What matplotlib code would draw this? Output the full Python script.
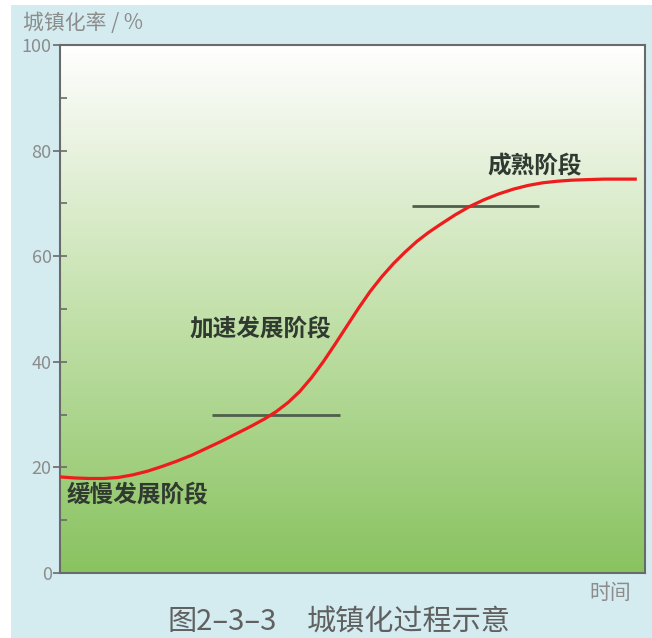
import numpy as np
import matplotlib
matplotlib.use("Agg")
import matplotlib.pyplot as plt
from matplotlib.colors import LinearSegmentedColormap
from matplotlib.patches import Rectangle

plt.rcParams['font.family'] = ['Noto Sans CJK SC', 'DejaVu Sans']

# curve (time axis 0-100, urbanisation rate in %)
curve_x = [0, 2.5, 5, 7.5, 10, 12.5, 15, 17.5, 20, 22.5, 25, 27.5, 30, 32.5, 35,
           37, 39, 41, 43, 45, 47, 49, 51, 53, 55, 57, 59, 61, 63, 65, 67.5,
           70, 72.5, 75, 77.5, 80, 82.5, 85, 87.5, 90, 93, 96, 98.6]
curve_y = [18.2, 18.0, 17.9, 17.9, 18.1, 18.6, 19.3, 20.2, 21.2, 22.3, 23.6, 24.9,
           26.3, 27.7, 29.2, 30.6, 32.3, 34.4, 37.0, 40.0, 43.3, 46.7, 50.1, 53.3,
           56.1, 58.6, 60.8, 62.8, 64.5, 66.0, 67.8, 69.4, 70.7, 71.8, 72.7, 73.4,
           73.9, 74.2, 74.4, 74.5, 74.6, 74.6, 74.6]

# stage boundaries
stage_y = [30, 69.5]
stage_x0 = [26.0, 60.2]
stage_x1 = [47.9, 81.9]

stage_names = ['缓慢发展阶段', '加速发展阶段', '成熟阶段']
stage_pos = [(1.2, 14.8), (22.2, 46.4), (73.0, 77.1)]

yticks = [0, 20, 40, 60, 80, 100]

fig = plt.figure(figsize=(6.52, 6.38), dpi=100, facecolor='#d4ecf0')
# white strips at the left and top edge of the scan
fig.patches.append(Rectangle((0, 0), 11 / 652, 1, transform=fig.transFigure,
                             facecolor='white', edgecolor='none'))
fig.patches.append(Rectangle((0, 1 - 5 / 638), 1, 5 / 638, transform=fig.transFigure,
                             facecolor='white', edgecolor='none'))

ax = fig.add_axes([60 / 652, 65 / 638, 585 / 652, 528 / 638])

# white-to-green background
cmap = LinearSegmentedColormap.from_list(
    'bg', [(0, '#89c360'), (0.5, '#c4e1ac'), (0.85, '#eef5e6'), (1, '#ffffff')])
grad = np.linspace(0, 1, 256).reshape(-1, 1)
ax.imshow(grad, extent=[0, 100, 0, 100], origin='lower', aspect='auto',
          cmap=cmap, zorder=0)

ax.plot(curve_x, curve_y, color='#ee1c1c', lw=2.3, zorder=3,
        solid_capstyle='butt', solid_joinstyle='round')
ax.hlines(stage_y, stage_x0, stage_x1, color='#4f5f4c', lw=2, zorder=2)

for name, (tx, ty) in zip(stage_names, stage_pos):
    ax.text(tx, ty, name, fontsize=17, fontweight='bold', color='#303a30',
            va='center', ha='left', zorder=4)

ax.set_xlim(0, 100)
ax.set_ylim(0, 100)
ax.set_xticks([])
ax.set_yticks(yticks)
ax.set_yticks(range(10, 100, 20), minor=True)
ax.tick_params(axis='y', which='major', direction='inout', length=10, width=1.2,
               color='#6a6a6a', labelsize=13, labelcolor='#8c8c8c', pad=1)
ax.tick_params(axis='y', which='minor', direction='in', length=5, width=1.2,
               color='#6a6a6a')
for lab in ax.get_yticklabels():
    lab.set_fontweight('light')
for sp in ax.spines.values():
    sp.set_color('#6a6a6a')
    sp.set_linewidth(1.5)

fig.text(23 / 652, 1 - 23 / 638, '城镇化率 / %', fontsize=15, color='#8c8c8c',
         fontweight='light', va='center', ha='left')
fig.text(589 / 652, 1 - 593 / 638, '时间', fontsize=15, color='#8c8c8c',
         fontweight='light', va='center', ha='left')
fig.text(168 / 652, 1 - 622 / 638, '图2–3–3', fontsize=21,
         color='#606060', fontweight='light', va='center', ha='left')
fig.text(307 / 652, 1 - 622 / 638, '城镇化过程示意', fontsize=21,
         color='#606060', fontweight='light', va='center', ha='left')

fig.savefig('out.png', dpi=100, facecolor=fig.get_facecolor())
